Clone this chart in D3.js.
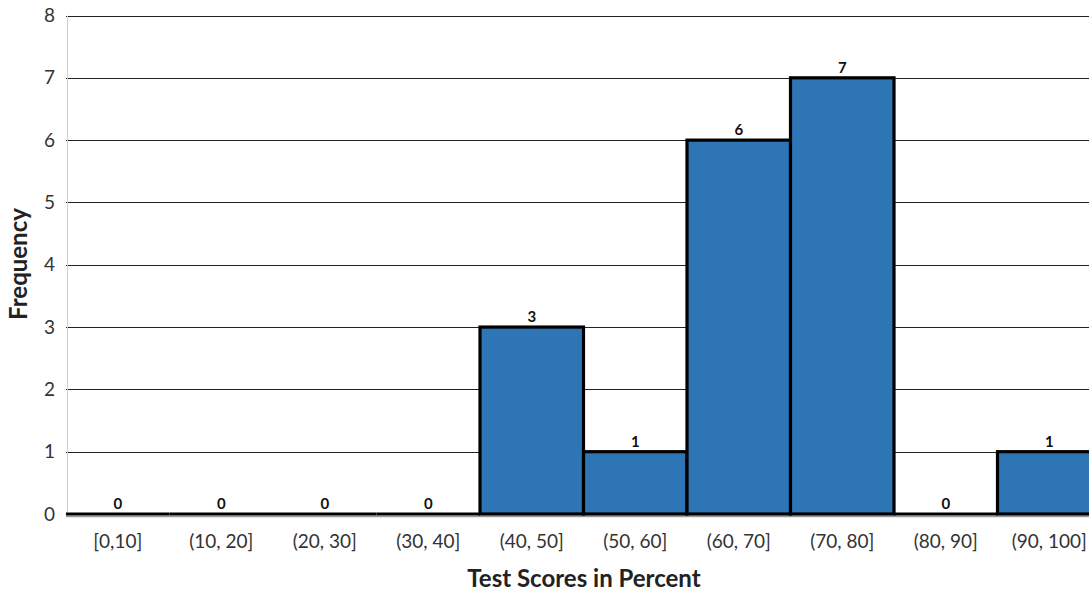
<!DOCTYPE html>
<html><head><meta charset="utf-8">
<script src="https://cdn.jsdelivr.net/npm/d3@7"></script>
<style>body{margin:0;background:#fff;overflow:hidden}svg{display:block}</style>
</head><body>
<script>
const categories = ["[0,10]","(10, 20]","(20, 30]","(30, 40]","(40, 50]","(50, 60]","(60, 70]","(70, 80]","(80, 90]","(90, 100]"];
const frequencies = [0,0,0,0,3,1,6,7,0,1];
const yTicks = [0,1,2,3,4,5,6,7,8];

const W = 1089, H = 591;
const plotLeft = 66, bandW = 103.5, plotTop = 15.5, plotBottom = 514;
const svg = d3.select("body").append("svg").attr("width", W).attr("height", H);
const font = "Lato, 'Open Sans', sans-serif";

const x = d3.scaleBand().domain(categories).range([plotLeft, plotLeft + bandW * categories.length]).padding(0);
const y = d3.scaleLinear().domain([0, 8]).range([plotBottom, plotTop]);

// gridlines
svg.append("g").selectAll("line").data(yTicks.filter(d => d > 0)).join("line")
  .attr("x1", plotLeft).attr("x2", W).attr("y1", d => Math.round(y(d)) + 0.5).attr("y2", d => Math.round(y(d)) + 0.5)
  .attr("stroke", "#222").attr("stroke-width", 1.2);

// left axis line
svg.append("line").attr("x1", plotLeft + 1.5).attr("x2", plotLeft + 1.5).attr("y1", plotTop).attr("y2", plotBottom)
  .attr("stroke", "#cfcfcf").attr("stroke-width", 1);

// y tick labels
const yAxis = d3.axisLeft(y).tickValues(yTicks).tickSize(0).tickPadding(0);
const gy = svg.append("g").attr("transform", `translate(${plotLeft - 11},0)`).call(yAxis);
gy.select(".domain").remove();
gy.selectAll("text").attr("font-family", font).attr("font-size", 19).attr("fill", "#333");

// bottom axis line
svg.append("line").attr("x1", plotLeft).attr("x2", W).attr("y1", plotBottom + 2.5).attr("y2", plotBottom + 2.5)
  .attr("stroke", "#9a9a9a").attr("stroke-width", 1.5);

// bars
const bars = svg.append("g");
bars.selectAll("rect").data(categories).join("rect")
  .attr("x", d => x(d))
  .attr("y", (d, i) => y(frequencies[i]))
  .attr("width", x.bandwidth())
  .attr("height", (d, i) => plotBottom - y(frequencies[i]))
  .attr("fill", "#2E75B6").attr("stroke", "#000").attr("stroke-width", 3.2);
// zero-height bars shown as a thick baseline segment
bars.selectAll("line").data(categories.filter((d, i) => frequencies[i] === 0)).join("line")
  .attr("x1", d => x(d)).attr("x2", d => x(d) + x.bandwidth())
  .attr("y1", y(0)).attr("y2", y(0))
  .attr("stroke", "#000").attr("stroke-width", 3.2);

// value labels
svg.append("g").selectAll("text").data(categories).join("text")
  .attr("x", d => x(d) + x.bandwidth() / 2)
  .attr("y", (d, i) => y(frequencies[i]) - 5)
  .attr("text-anchor", "middle").attr("font-family", font).attr("font-weight", "bold")
  .attr("font-size", 15).attr("fill", "#111")
  .text((d, i) => frequencies[i]);

// x tick labels
const xAxis = d3.axisBottom(x).tickSize(0).tickPadding(0);
const gx = svg.append("g").attr("transform", `translate(0,${plotBottom + 34})`).call(xAxis);
gx.select(".domain").remove();
gx.selectAll("text").attr("dy", 0).attr("font-family", font).attr("font-size", 19).attr("fill", "#333");

// axis titles
svg.append("text").attr("x", 584).attr("y", 587).attr("text-anchor", "middle")
  .attr("font-family", font).attr("font-weight", "bold").attr("font-size", 24).attr("fill", "#222")
  .text("Test Scores in Percent");
svg.append("text").attr("transform", `translate(27,264) rotate(-90)`).attr("text-anchor", "middle")
  .attr("font-family", font).attr("font-weight", "bold").attr("font-size", 24).attr("fill", "#222")
  .text("Frequency");
</script>
</body></html>
